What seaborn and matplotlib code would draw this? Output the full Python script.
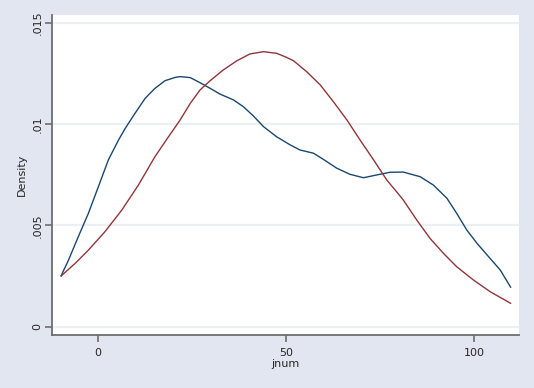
import pandas as pd
import seaborn as sns
import matplotlib.pyplot as plt

# kernel density curves
blue_x = [-9.9, -7.9, -5.3, -2.6, 0.05, 2.7, 5.4, 7.2, 9.8, 12.5, 15.1, 17.8, 20.5,
          21.8, 24.5, 27.1, 29.8, 32.4, 36.0, 38.6, 41.3, 44.0, 47.5, 51.1, 53.7,
          57.3, 59.9, 63.5, 67.0, 70.6, 74.2, 77.7, 81.2, 85.7, 89.2, 92.8, 95.4,
          98.1, 100.8, 104.3, 107.0, 109.8]
blue_y = [0.0025, 0.00329, 0.00444, 0.0056, 0.00691, 0.00823, 0.00921, 0.00979,
          0.01053, 0.01127, 0.01176, 0.01214, 0.0123, 0.01234, 0.01229, 0.01204,
          0.01176, 0.01148, 0.01119, 0.01086, 0.0104, 0.00987, 0.00937, 0.00897,
          0.00872, 0.00856, 0.00826, 0.00782, 0.00752, 0.00735, 0.00749, 0.00762,
          0.00763, 0.0074, 0.00699, 0.00634, 0.0056, 0.00477, 0.00412, 0.00337,
          0.0028, 0.00194]

red_x = [-9.9, -6.1, -2.6, 1.8, 6.3, 10.7, 15.1, 18.7, 21.8, 24.5, 27.1, 29.8, 33.3,
         36.9, 40.4, 44.0, 47.5, 50.0, 52.0, 55.5, 59.1, 62.6, 66.2, 69.7, 73.3,
         76.8, 79.9, 81.2, 84.8, 88.3, 91.9, 95.4, 99.9, 104.3, 109.8]
red_y = [0.0025, 0.00313, 0.00378, 0.00469, 0.00576, 0.00699, 0.00839, 0.00937,
         0.0102, 0.01102, 0.01168, 0.01214, 0.01267, 0.01312, 0.01346, 0.01357,
         0.01349, 0.0133, 0.01312, 0.01258, 0.01193, 0.0111, 0.0102, 0.00921,
         0.00823, 0.00724, 0.00655, 0.00625, 0.00526, 0.00436, 0.00362, 0.00296,
         0.0023, 0.00173, 0.00115]

y_ticks = [0, 0.005, 0.01, 0.015]
y_tick_labels = ["0", ".005", ".01", ".015"]
x_ticks = [0, 50, 100]
x_tick_labels = ["0", "50", "100"]

df = pd.concat([
    pd.DataFrame({"jnum": blue_x, "Density": blue_y, "series": "a"}),
    pd.DataFrame({"jnum": red_x, "Density": red_y, "series": "b"}),
])

sns.set_style("white")
plt.rcParams["font.family"] = ["DejaVu Sans"]

bg = "#E1E6F0"
grid_col = "#EAF0F4"
axis_col = "#6E6E6E"

fig = plt.figure(figsize=(5.34, 3.88), dpi=100, facecolor=bg)
ax = fig.add_axes([52 / 534, 1 - 335 / 388, (519 - 52) / 534, (335 - 15) / 388])
ax.set_facecolor("white")

for yt in y_ticks:
    ax.axhline(yt, color=grid_col, lw=1.6, zorder=0)

sns.lineplot(data=df, x="jnum", y="Density", hue="series",
             palette={"a": "#1A476F", "b": "#90353B"}, linewidth=1.0,
             legend=False, ax=ax, sort=False)
for ln in ax.lines:
    ln.set_solid_joinstyle("round")

ax.set_xlim(-12.3, 112.0)
ax.set_ylim(-0.00041, 0.01538)

ax.set_yticks(y_ticks)
ax.set_yticklabels(y_tick_labels, rotation=90, va="center", fontsize=8)
ax.set_xticks(x_ticks)
ax.set_xticklabels(x_tick_labels, fontsize=8)
ax.tick_params(axis="both", direction="out", length=5, width=1.2, color=axis_col,
               pad=2, left=True, bottom=True)
ax.tick_params(axis="x", pad=4)

for side in ["top", "right"]:
    ax.spines[side].set_visible(False)
for side in ["left", "bottom"]:
    ax.spines[side].set_color(axis_col)
    ax.spines[side].set_linewidth(1.3)

ax.set_xlabel("jnum", fontsize=8, labelpad=1)
ax.set_ylabel("Density", fontsize=8, labelpad=4)

fig.savefig("out.png", dpi=100, facecolor=bg)
